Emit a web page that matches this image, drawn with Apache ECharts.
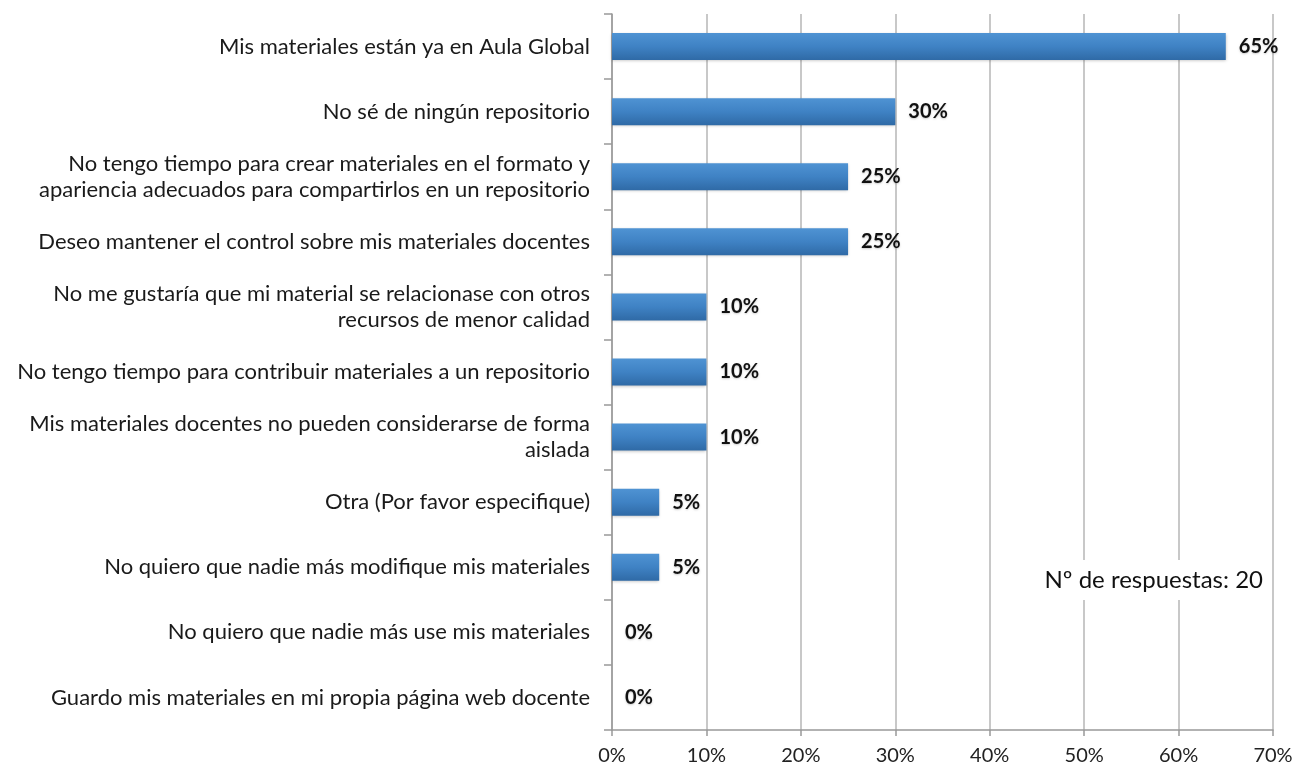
<!DOCTYPE html>
<html>
<head>
<meta charset="utf-8">
<script src="https://cdn.jsdelivr.net/npm/echarts@6/dist/echarts.min.js"></script>
<style>
html, body { margin: 0; padding: 0; background: #fff; }
#chart { width: 1298px; height: 771px; }
</style>
</head>
<body>
<div id="chart"></div>
<script>
// respuestas, de arriba abajo
const categories = [
    'Mis materiales están ya en Aula Global',
    'No sé de ningún repositorio',
    'No tengo tiempo para crear materiales en el formato y\napariencia adecuados para compartirlos en un repositorio',
    'Deseo mantener el control sobre mis materiales docentes',
    'No me gustaría que mi material se relacionase con otros\nrecursos de menor calidad',
    'No tengo tiempo para contribuir materiales a un repositorio',
    'Mis materiales docentes no pueden considerarse de forma\naislada',
    'Otra (Por favor especifique)',
    'No quiero que nadie más modifique mis materiales',
    'No quiero que nadie más use mis materiales',
    'Guardo mis materiales en mi propia página web docente'
];
const percentValues = [65, 30, 25, 25, 10, 10, 10, 5, 5, 0, 0];
const xTicks = [0, 10, 20, 30, 40, 50, 60, 70];
const noteText = 'Nº de respuestas: 20';

const chart = echarts.init(document.getElementById('chart'));

const option = {
    animation: false,
    textStyle: { fontFamily: 'Lato' },
    grid: {
        left: 612,
        right: 25,
        top: 14,
        bottom: 41
    },
    xAxis: {
        type: 'value',
        min: xTicks[0],
        max: xTicks[xTicks.length - 1],
        interval: 10,
        axisLine: { show: true, lineStyle: { color: '#999', width: 1.5 } },
        axisTick: { show: true, length: 6, lineStyle: { color: '#999', width: 1.5 } },
        axisLabel: {
            formatter: '{value}%',
            color: '#222',
            fontSize: 20,
            margin: 16
        },
        splitLine: { show: true, lineStyle: { color: '#c8c8c8', width: 2 } }
    },
    yAxis: {
        type: 'category',
        inverse: true,
        data: categories,
        axisLine: { show: true, lineStyle: { color: '#999', width: 1.5 } },
        axisTick: { show: true, length: 8, alignWithLabel: false, lineStyle: { color: '#999', width: 1.5 } },
        axisLabel: {
            color: '#1a1a1a',
            fontSize: 22,
            lineHeight: 26,
            margin: 22,
            align: 'right'
        }
    },
    series: [{
        type: 'bar',
        data: percentValues,
        barWidth: 27,
        itemStyle: {
            color: new echarts.graphic.LinearGradient(0, 0, 0, 1, [
                { offset: 0, color: '#4f93d3' },
                { offset: 0.5, color: '#3f82c4' },
                { offset: 1, color: '#2f6aa6' }
            ]),
            shadowColor: 'rgba(0,0,0,0.25)',
            shadowBlur: 3,
            shadowOffsetY: 1
        },
        label: {
            show: true,
            position: 'right',
            distance: 13,
            formatter: '{c}%',
            fontWeight: 'bold',
            fontSize: 20,
            color: '#111',
            textShadowColor: 'rgba(0,0,0,0.2)',
            textShadowBlur: 2,
            textShadowOffsetY: 1
        }
    }],
    graphic: [{
        type: 'text',
        right: 29,
        top: 560,
        z: 100,
        style: {
            text: noteText,
            fontFamily: 'Lato',
            fontSize: 24,
            fill: '#111',
            backgroundColor: '#fff',
            padding: [8, 6]
        }
    }]
};

chart.setOption(option);
</script>
</body>
</html>
